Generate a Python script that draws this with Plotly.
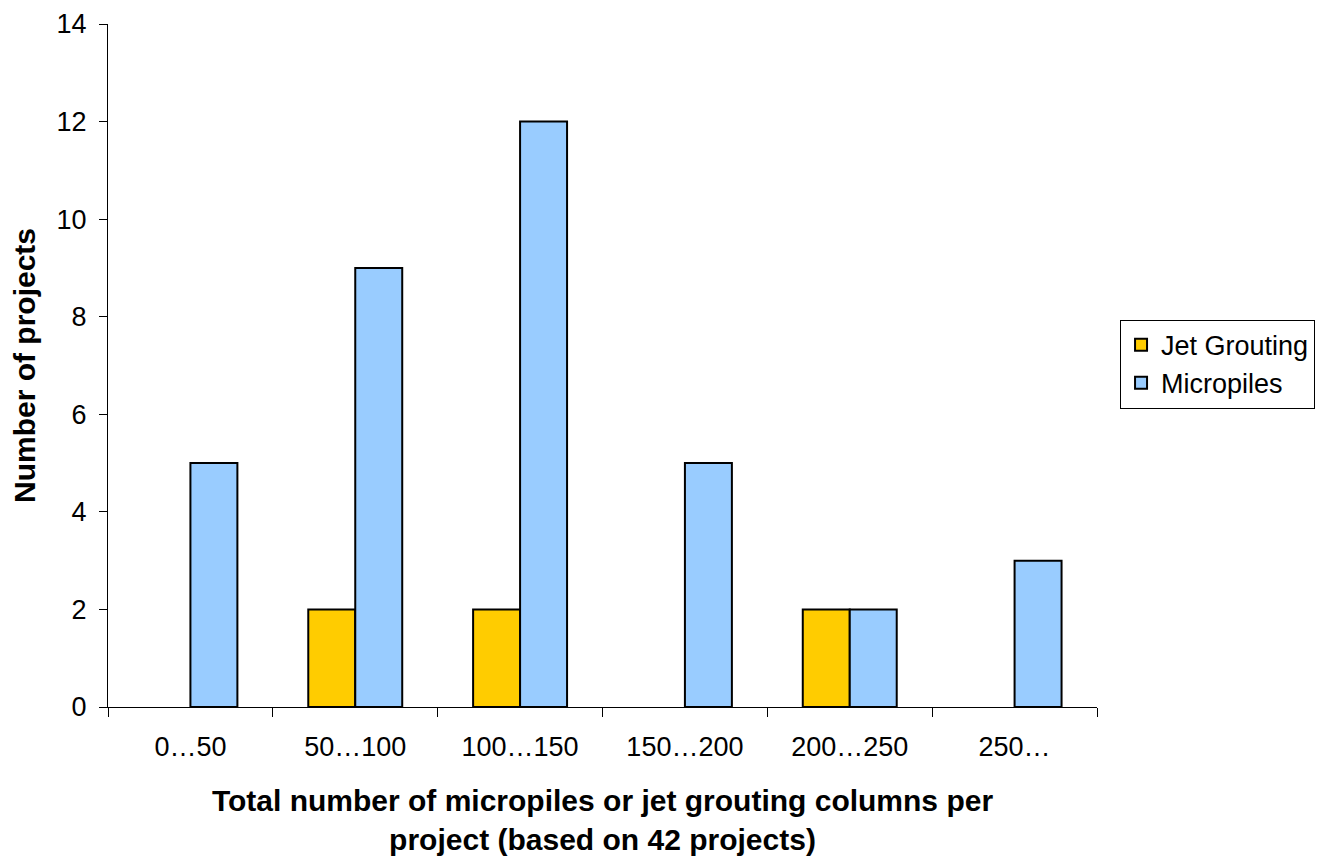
import plotly.graph_objects as go

categories = ["0…50", "50…100", "100…150", "150…200", "200…250", "250…"]
jet_grouting = [0, 2, 2, 0, 2, 0]
micropiles = [5, 9, 12, 5, 2, 3]

def nz(vals):
    return [v if v != 0 else None for v in vals]

fig = go.Figure()
fig.add_trace(go.Bar(x=categories, y=nz(jet_grouting), name="Jet Grouting",
                     marker=dict(color="#FFCC00", line=dict(color="black", width=2))))
fig.add_trace(go.Bar(x=categories, y=nz(micropiles), name="Micropiles",
                     marker=dict(color="#99CCFF", line=dict(color="black", width=2))))

font = "Liberation Sans, Arial, sans-serif"
fig.update_layout(
    width=1329, height=858,
    margin=dict(l=100, r=240, t=16, b=159, autoexpand=False),
    paper_bgcolor="white", plot_bgcolor="white",
    barmode="group", bargap=0.43, bargroupgap=0,
    font=dict(family=font, size=27, color="black"),
    showlegend=True,
    legend=dict(x=1.0233, y=0.502, xanchor="left", yanchor="middle",
                bordercolor="black", borderwidth=1, font=dict(size=27),
                tracegroupgap=0),
    xaxis=dict(
        showline=True, linecolor="black", linewidth=1, automargin=False,
        ticks="outside", ticklen=9, tickcolor="black", tickson="boundaries",
        ticklabelstandoff=16,
        title=dict(text="<b>Total number of micropiles or jet grouting columns per<br>project (based on 42 projects)</b>",
                   font=dict(size=30), standoff=28),
        showgrid=False,
    ),
    yaxis=dict(
        range=[0, 14], dtick=2, automargin=False,
        showline=True, linecolor="black", linewidth=1,
        ticks="outside", ticklen=8, tickcolor="black",
        ticklabelstandoff=7,
        title=dict(text="<b>Number of projects</b>", font=dict(size=30), standoff=25),
        showgrid=False, zeroline=False,
    ),
)
fig.write_html("out.html")
